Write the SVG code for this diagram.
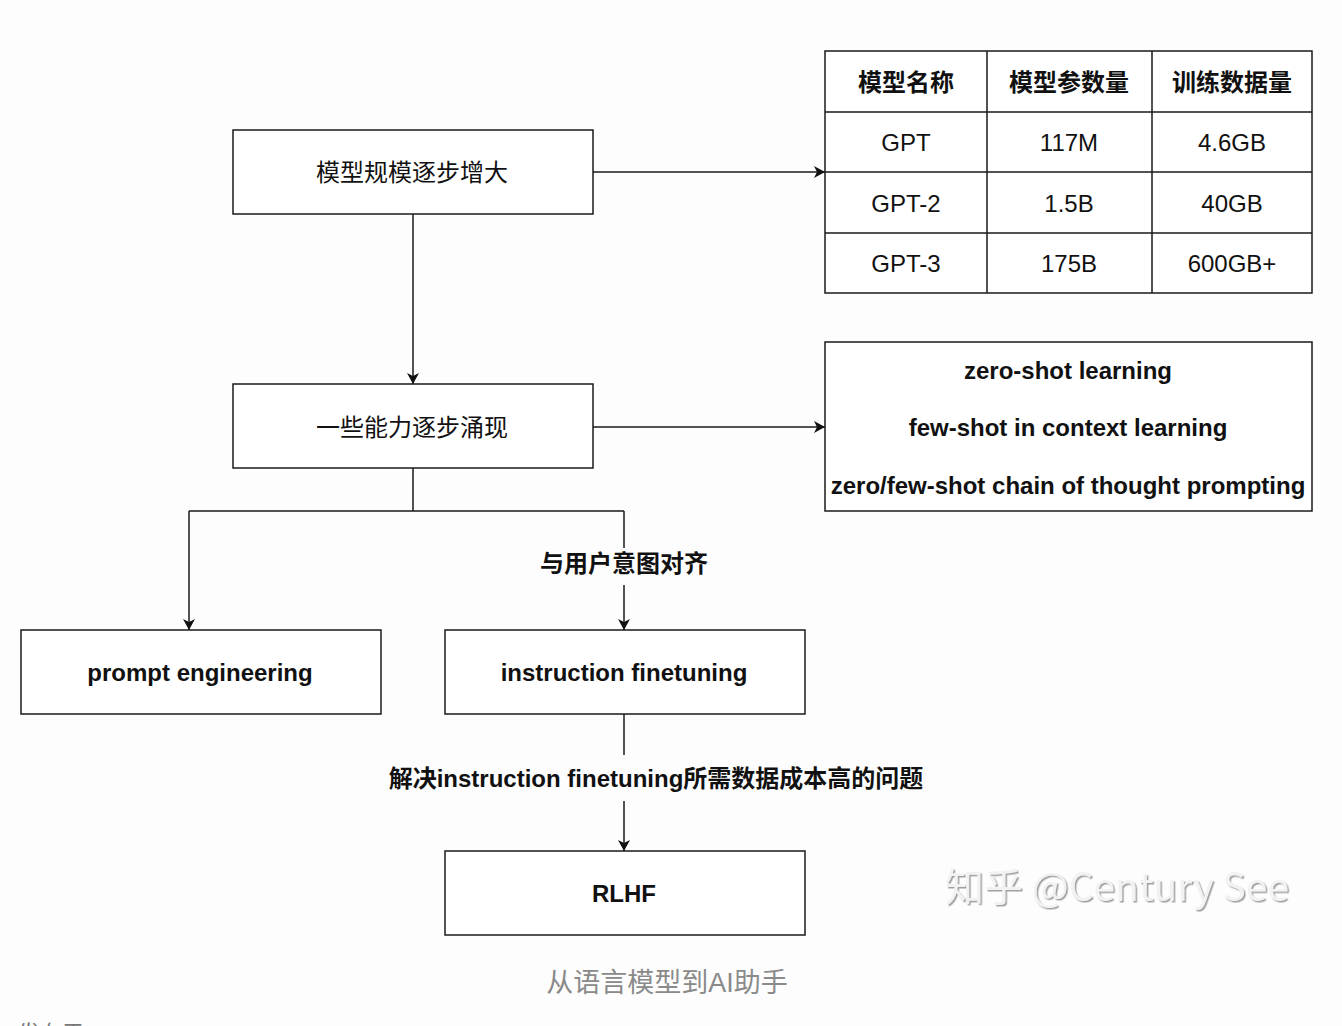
<svg xmlns="http://www.w3.org/2000/svg" width="1342" height="1026" viewBox="0 0 1342 1026">
<defs>
<style>
.box{fill:#fff;stroke:#1a1a1a;stroke-width:1.5}
.ln{fill:none;stroke:#1a1a1a;stroke-width:1.5}
.t{font-family:"Liberation Sans","Noto Sans CJK SC",sans-serif;fill:#111;text-anchor:middle;dominant-baseline:central}
.cn{font-size:24px}
.b{font-weight:bold}
.r{font-size:24px}
</style>
<marker id="ar" markerWidth="14" markerHeight="14" refX="11" refY="6.5" orient="auto" markerUnits="userSpaceOnUse">
<path d="M0,0.5 L11,6.5 L0,12.5 L3,6.5 Z" fill="#111"/>
</marker>
<filter id="sh" x="-5%" y="-20%" width="110%" height="140%">
<feDropShadow dx="1.5" dy="1.5" stdDeviation="0.6" flood-color="#888" flood-opacity="0.8"/>
</filter>
</defs>
<rect width="1342" height="1026" fill="#fdfdfd"/>
<g id="connectors">
<path class="ln" d="M593,172 H825" marker-end="url(#ar)"/>
<path class="ln" d="M413,214 V384" marker-end="url(#ar)"/>
<path class="ln" d="M593,427 H825" marker-end="url(#ar)"/>
<path class="ln" d="M413,468 V511 M189,511 H624"/>
<path class="ln" d="M189,511 V630" marker-end="url(#ar)"/>
<path class="ln" d="M624,511 V548"/>
<path class="ln" d="M624,585 V630" marker-end="url(#ar)"/>
<path class="ln" d="M624,714 V755"/>
<path class="ln" d="M624,801 V851" marker-end="url(#ar)"/>
<text class="t b cn" x="624" y="563">与用户意图对齐</text>
<text class="t b r" x="656" y="778">解决instruction finetuning所需数据成本高的问题</text>
</g>
<g id="n1"><rect class="box" x="233" y="130" width="360" height="84"/><text class="t cn" x="412" y="172">模型规模逐步增大</text></g>
<g id="table">
<rect class="box" x="825" y="51" width="487" height="242"/>
<path class="ln" d="M987,51 V293 M1152,51 V293 M825,112 H1312 M825,172 H1312 M825,233 H1312"/>
<text class="t b cn" x="906" y="82">模型名称</text>
<text class="t b cn" x="1069" y="82">模型参数量</text>
<text class="t b cn" x="1232" y="82">训练数据量</text>
<text class="t r" x="906" y="142">GPT</text>
<text class="t r" x="1069" y="142">117M</text>
<text class="t r" x="1232" y="142">4.6GB</text>
<text class="t r" x="906" y="203">GPT-2</text>
<text class="t r" x="1069" y="203">1.5B</text>
<text class="t r" x="1232" y="203">40GB</text>
<text class="t r" x="906" y="263">GPT-3</text>
<text class="t r" x="1069" y="263">175B</text>
<text class="t r" x="1232" y="263">600GB+</text>
</g>
<g id="n2"><rect class="box" x="233" y="384" width="360" height="84"/><text class="t cn" x="412" y="427">一些能力逐步涌现</text></g>
<g id="n3"><rect class="box" x="825" y="342" width="487" height="169"/>
<text class="t b r" x="1068" y="370">zero-shot learning</text>
<text class="t b r" x="1068" y="427">few-shot in context learning</text>
<text class="t b r" x="1068" y="485">zero/few-shot chain of thought prompting</text>
</g>
<g id="n4"><rect class="box" x="21" y="630" width="360" height="84"/><text class="t b r" x="200" y="672">prompt engineering</text></g>
<g id="n5"><rect class="box" x="445" y="630" width="360" height="84"/><text class="t b r" x="624" y="672">instruction finetuning</text></g>
<g id="n6"><rect class="box" x="445" y="851" width="360" height="84"/><text class="t b r" x="624" y="893">RLHF</text></g>
<text x="945" y="901" font-family="'Noto Sans CJK SC',sans-serif" font-size="39" fill="#f2f2f2" filter="url(#sh)">知乎 @Century See</text>
<text class="t" x="667" y="983" font-size="27" style="fill:#8a8a8a">从语言模型到AI助手</text>
<text x="18" y="1041" font-family="'Noto Sans CJK SC',sans-serif" font-size="22" fill="#777">发布于</text>
</svg>
